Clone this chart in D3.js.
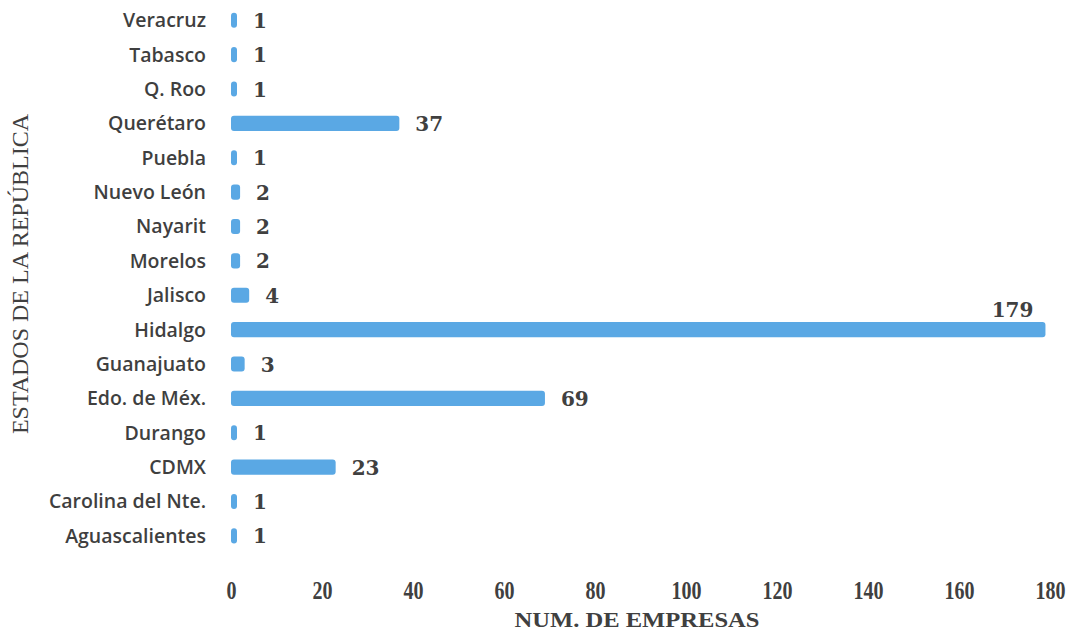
<!DOCTYPE html>
<html><head><meta charset="utf-8">
<script src="https://cdn.jsdelivr.net/npm/d3@7"></script>
<style>body{margin:0;background:#fff}svg{display:block}</style>
</head><body>
<svg id="c" width="1073" height="635"></svg>
<script>
const categories = ["Veracruz","Tabasco","Q. Roo","Querétaro","Puebla","Nuevo León","Nayarit","Morelos","Jalisco","Hidalgo","Guanajuato","Edo. de Méx.","Durango","CDMX","Carolina del Nte.","Aguascalientes"];
const values = [1,1,1,37,1,2,2,2,4,179,3,69,1,23,1,1];
const xTicks = [0,20,40,60,80,100,120,140,160,180];
const xTitle = "NUM. DE EMPRESAS";
const yTitle = "ESTADOS DE LA REPÚBLICA";

const svg = d3.select("#c");
const x = d3.scaleLinear().domain([0,180]).range([231,1050]);
const y = d3.scaleBand().domain(categories).range([3,553]).paddingInner(0.56).paddingOuter(0.28);

const data = categories.map((c,i)=>({c, v: values[i]}));

svg.append("g").selectAll("rect").data(data).join("rect")
  .attr("x", x(0))
  .attr("y", d=>y(d.c))
  .attr("width", d=>Math.max(6, x(d.v)-x(0)))
  .attr("height", y.bandwidth())
  .attr("rx", 3)
  .attr("fill", "#5aa8e4");

// category labels
svg.append("g").selectAll("text").data(data).join("text")
  .attr("x", 206)
  .attr("y", d=>y(d.c)+y.bandwidth()/2)
  .attr("dy","0.36em")
  .attr("text-anchor","end")
  .attr("font-family","'Open Sans', Lato, sans-serif")
  .attr("font-weight",600)
  .attr("font-size",19.5)
  .attr("fill","#3f3f3f")
  .text(d=>d.c);

// value labels
svg.append("g").selectAll("text").data(data).join("text")
  .attr("x", d=> d.v > 170 ? x(d.v)-12 : Math.max(x(d.v), x(0)+6) + 16)
  .attr("y", d=> d.v > 170 ? y(d.c)-5 : y(d.c)+y.bandwidth()/2)
  .attr("dy", d=> d.v > 170 ? "0" : "0.38em")
  .attr("text-anchor", d=> d.v > 170 ? "end" : "start")
  .attr("font-family","'DejaVu Serif', 'Liberation Serif', serif")
  .attr("font-weight","bold")
  .attr("font-size",20)
  .attr("fill","#404040")
  .text(d=>d.v);

// x axis tick labels
const xAxis = d3.axisBottom(x).tickValues(xTicks).tickSize(0).tickPadding(0);
const gx = svg.append("g").attr("transform","translate(0,581)").call(xAxis);
gx.select(".domain").remove();
gx.selectAll("text")
  .attr("font-family","'Liberation Serif', serif")
  .attr("font-weight","bold")
  .attr("font-size",25)
  .attr("fill","#404040")
  .attr("transform","scale(0.8,1)");

svg.append("text")
  .attr("x", 637).attr("y", 627)
  .attr("text-anchor","middle")
  .attr("font-family","'Liberation Serif', serif")
  .attr("font-weight","bold")
  .attr("font-size",22)
  .attr("textLength",245)
  .attr("lengthAdjust","spacingAndGlyphs")
  .attr("fill","#404040")
  .text(xTitle);

svg.append("text")
  .attr("transform","translate(28,274) rotate(-90)")
  .attr("text-anchor","middle")
  .attr("font-family","'Liberation Serif', serif")
  .attr("font-size",24)
  .attr("fill","#404040")
  .text(yTitle);
</script>
</body></html>
